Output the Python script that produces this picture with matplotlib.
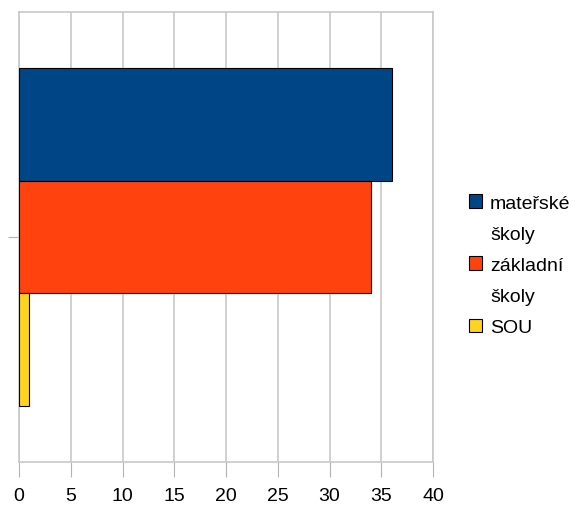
import matplotlib
matplotlib.use('Agg')
import matplotlib.pyplot as plt
from matplotlib.patches import Patch

# school types and counts
series = ['mateřské\nškoly', 'základní\nškoly', 'SOU']
values = [36, 34, 1]
colors = ['#004586', '#ff420e', '#ffd320']
x_ticks = [0, 5, 10, 15, 20, 25, 30, 35, 40]

plt.rcParams['font.family'] = ['Liberation Sans', 'DejaVu Sans']

fig = plt.figure(figsize=(5.82, 5.06), dpi=100)
ax = fig.add_axes([19 / 582, 43 / 506, 414 / 582, 450 / 506])

group_width = 0.75
bar_h = group_width / len(values)
for i, (name, val, col) in enumerate(zip(series, values, colors)):
    # first series on top
    y = group_width / 2 - bar_h * (i + 0.5)
    ax.barh(y, val, height=bar_h, color=col, edgecolor='black',
            linewidth=0.8, zorder=3)

ax.set_xlim(0, 40)
ax.set_ylim(-0.5, 0.5)
ax.set_xticks(x_ticks)
ax.set_xticklabels([str(t) for t in x_ticks], fontsize=14)
ax.set_yticks([0])
ax.set_yticklabels([''])
ax.tick_params(axis='x', length=11, color='#b3b3b3', pad=7)
ax.tick_params(axis='y', length=8, color='#b3b3b3')
ax.xaxis.grid(True, color='#c8c8c8', linewidth=1.2, zorder=0)
for sp in ax.spines.values():
    sp.set_color('#c8c8c8')
    sp.set_linewidth(1.2)

# legend: one row per text line, swatch only next to the first line
handles, labels = [], []
for name, col in zip(series, colors):
    for j, line in enumerate(name.split('\n')):
        if j == 0:
            handles.append(Patch(facecolor=col, edgecolor='black', linewidth=0.8))
        else:
            handles.append(Patch(facecolor='none', edgecolor='none'))
        labels.append(line)

ax.legend(handles, labels, loc='upper left', bbox_to_anchor=(1.087, 0.595),
          frameon=False, fontsize=14, handlelength=0.68, handleheight=0.68,
          handletextpad=0.4, labelspacing=0.7, borderpad=0, borderaxespad=0)

fig.savefig('out.png', dpi=100)
